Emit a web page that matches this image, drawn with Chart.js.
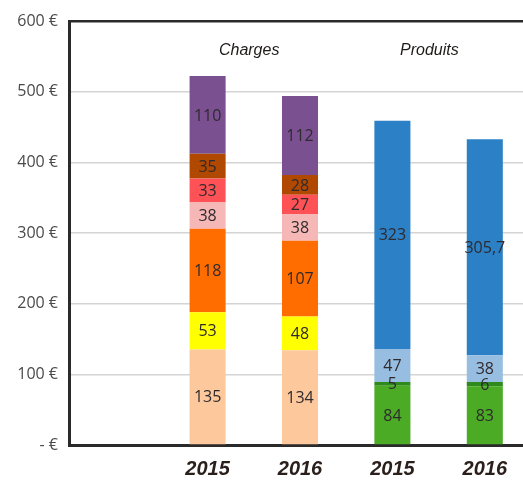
<!DOCTYPE html>
<html>
<head>
<meta charset="utf-8">
<script src="https://cdn.jsdelivr.net/npm/chart.js@4/dist/chart.umd.min.js"></script>
<style>
  html, body { margin: 0; padding: 0; background: #fff; overflow: hidden; }
  #wrap { width: 531px; height: 481px; }
</style>
</head>
<body>
<div id="wrap"><canvas id="chart"></canvas></div>
<script>
// first slot is empty, as in the original spreadsheet
var years = ["", "2015", "2016", "2015", "2016"];
var groups = [{ name: "Charges", at: 1.45 }, { name: "Produits", at: 3.4 }];

var chargesNames = ["c1", "c2", "c3", "c4", "c5", "c6", "c7"];
var charges2015 = [135, 53, 118, 38, 33, 35, 110];
var charges2016 = [134, 48, 107, 38, 27, 28, 112];
var chargesColors = ["#fdc89c", "#ffff00", "#ff6c00", "#f5b8b6", "#fe5257", "#b04800", "#7a5090"];

var produitsNames = ["p1", "p2", "p3", "p4"];
var produits2015 = [84, 5, 47, 323];
var produits2016 = [83, 6, 38, 305.7];
var produitsColors = ["#4bab24", "#2f8a1c", "#97bde1", "#2b80c6"];

var yTicks = [0, 100, 200, 300, 400, 500, 600];

var datasets = [];
for (var i = 0; i < chargesNames.length; i++) {
	datasets.push({
		label: chargesNames[i],
		data: [null, charges2015[i], charges2016[i], null, null],
		backgroundColor: chargesColors[i],
		stack: "s"
	});
}
for (var j = 0; j < produitsNames.length; j++) {
	datasets.push({
		label: produitsNames[j],
		data: [null, null, null, produits2015[j], produits2016[j]],
		backgroundColor: produitsColors[j],
		stack: "s"
	});
}

// writes the value in the middle of each segment
var valueLabels = {
	id: "valueLabels",
	afterDatasetsDraw: function(chart) {
		var ctx = chart.ctx;
		ctx.save();
		ctx.font = "16px 'Open Sans', sans-serif";
		ctx.fillStyle = "#2e2a2e";
		ctx.textAlign = "center";
		ctx.textBaseline = "middle";
		chart.data.datasets.forEach(function(ds, di) {
			var meta = chart.getDatasetMeta(di);
			meta.data.forEach(function(bar, k) {
				var v = ds.data[k];
				if (v === null) return;
				var mid = (bar.y + bar.base) / 2;
				ctx.fillText(String(v).replace(".", ","), bar.x, mid + 1);
			});
		});
		ctx.restore();
	}
};

// "Charges" / "Produits" headings above the bar pairs
var groupTitles = {
	id: "groupTitles",
	afterDraw: function(chart) {
		var ctx = chart.ctx;
		var xs = chart.scales.x;
		ctx.save();
		ctx.font = "italic 16px 'Liberation Sans', Arial, sans-serif";
		ctx.fillStyle = "#1e1a18";
		ctx.textAlign = "center";
		ctx.textBaseline = "middle";
		groups.forEach(function(g) {
			ctx.fillText(g.name, xs.getPixelForValue(g.at), chart.chartArea.top + 30);
		});
		ctx.restore();
	}
};

var chart = new Chart("chart", {
	type: "bar",
	data: { labels: years, datasets: datasets },
	plugins: [valueLabels, groupTitles],
	options: {
		responsive: true,
		maintainAspectRatio: false,
		animation: false,
		layout: { padding: { top: 21, right: 0, bottom: 0, left: 0 } },
		datasets: { bar: { barPercentage: 0.39, categoryPercentage: 1 } },
		plugins: { legend: { display: false }, tooltip: { enabled: false } },
		scales: {
			x: {
				stacked: true,
				grid: { display: false },
				border: { display: true, color: "#2a2a2a", width: 3 },
				ticks: {
					color: "#2a1f1a",
					padding: 4,
					font: { family: "'Liberation Sans', Arial, sans-serif", size: 20, style: "italic", weight: "bold" }
				},
				afterFit: function(s) { s.height = 36; }
			},
			y: {
				stacked: true,
				min: 0,
				max: 600,
				afterBuildTicks: function(s) { s.ticks = yTicks.map(function(v) { return { value: v }; }); },
				grid: {
					drawTicks: false,
					color: function(c) { return c.tick && c.tick.value === 600 ? "#2a2a2a" : "#d4d4d4"; },
					lineWidth: function(c) { return c.tick && c.tick.value === 600 ? 2.5 : 1.5; }
				},
				border: { display: true, color: "#2a2a2a", width: 3 },
				ticks: {
					color: "#4a4a4a",
					padding: 11,
					font: { family: "'Open Sans', sans-serif", size: 16 },
					callback: function(v) { return v === 0 ? "- €" : v + " €"; }
				},
				afterFit: function(s) { s.width = 69; }
			}
		}
	}
});
</script>
</body>
</html>
